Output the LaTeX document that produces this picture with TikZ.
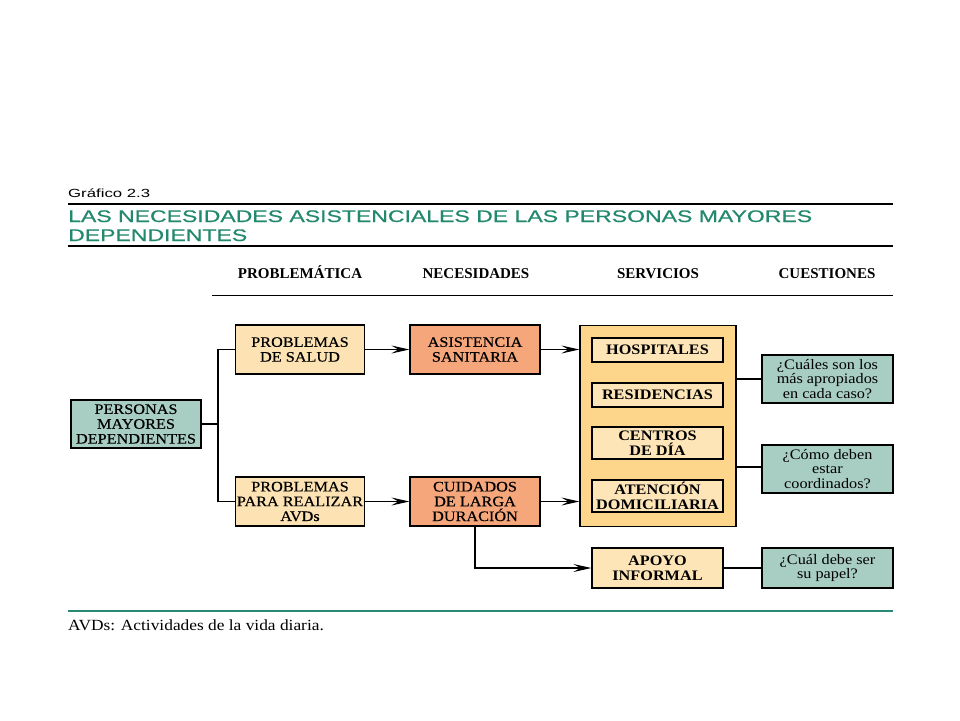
\documentclass[tikz,border=0pt]{standalone}
\usepackage{fontspec}
\setmainfont{Liberation Serif}
\newfontfamily\bxfont[FakeStretch=1.12,FakeBold=0.4]{Liberation Serif}
\newfontfamily\qfont[FakeStretch=1.12]{Liberation Serif}
\newfontfamily\ttlfont[FakeStretch=1.37,FakeBold=0.5]{Liberation Sans}
\newfontfamily\grafont[FakeStretch=1.42]{Liberation Sans}
\newfontfamily\hdrfont{Liberation Serif}
\usetikzlibrary{arrows.meta}
\definecolor{ttlteal}{HTML}{23896E}
\definecolor{boxteal}{HTML}{A8CDC2}
\definecolor{lightyel}{HTML}{FDE3B3}
\definecolor{boxorange}{HTML}{F5A67B}
\definecolor{servyel}{HTML}{FDD68C}
\definecolor{inneryel}{HTML}{FEE5B8}
\definecolor{ruleteal}{HTML}{2A8A73}
\tikzset{
  basebox/.style={draw=black, line width=1.3pt, inner sep=0pt, align=center,
    font=\bxfont\fontsize{14.5}{14.8}\selectfont},
  tealbox/.style={basebox, fill=boxteal, minimum width=130pt, minimum height=48pt},
  yelbox/.style={basebox, fill=lightyel, minimum width=129pt, minimum height=49pt},
  orbox/.style={basebox, fill=boxorange, minimum width=130pt, minimum height=49pt},
  servbox/.style={draw=black, line width=1.3pt, fill=servyel, minimum width=156pt, minimum height=201pt},
  innerbox/.style={basebox, fill=inneryel, minimum width=131pt, font=\qfont\bfseries\fontsize{14.5}{14.8}\selectfont},
  qbox/.style={basebox, fill=boxteal, minimum width=131pt, font=\qfont\fontsize{14.5}{14.8}\selectfont},
  conn/.style={line width=1.1pt},
  arr/.style={line width=1.1pt, -{Stealth[length=18pt,width=8pt,inset=7pt]}},
  hdr/.style={font=\hdrfont\bfseries\fontsize{15}{18}\selectfont, anchor=base},
}
\begin{document}
\begin{tikzpicture}[x=1pt,y=-1pt]
\useasboundingbox[fill=white] (0,0) rectangle (960,720);
% header texts
\node[anchor=base west, inner sep=0, font=\grafont\fontsize{11.8}{13}\selectfont] (gra) at (68,197) {Gráfico 2.3};
\draw[line width=2pt] (68,203.5) -- (893,203.5);
\node[anchor=base west, inner sep=0, text=ttlteal, font=\ttlfont\fontsize{16.8}{20}\selectfont] (t1) at (68,222) {LAS NECESIDADES ASISTENCIALES DE LAS PERSONAS MAYORES};
\node[anchor=base west, inner sep=0, text=ttlteal, font=\ttlfont\fontsize{16.8}{20}\selectfont] (t2) at (68,241) {DEPENDIENTES};
\draw[line width=2pt] (68,246) -- (893,246);
\node[hdr] (h1) at (300,278) {PROBLEMÁTICA};
\node[hdr] (h2) at (476,278) {NECESIDADES};
\node[hdr] (h3) at (658,278) {SERVICIOS};
\node[hdr] (h4) at (827,278) {CUESTIONES};
\draw[line width=1.3pt] (212,295.5) -- (893,295.5);
% boxes
\node[tealbox] (pmd) at (136,424) {PERSONAS\\MAYORES\\DEPENDIENTES};
\node[yelbox] (ps) at (300,349.5) {PROBLEMAS\\DE SALUD};
\node[yelbox] (pa) at (300,501.5) {PROBLEMAS\\PARA REALIZAR\\AVDs};
\node[orbox] (as) at (475,349.5) {ASISTENCIA\\SANITARIA};
\node[orbox] (cu) at (475,501.5) {CUIDADOS\\DE LARGA\\DURACIÓN};
\node[servbox] (serv) at (658,426) {};
\node[innerbox, minimum height=24pt] (hosp) at (657.5,350) {HOSPITALES};
\node[innerbox, minimum height=24pt] (res) at (657.5,395) {RESIDENCIAS};
\node[innerbox, minimum height=32pt] (cen) at (657.5,443) {CENTROS\\DE DÍA};
\node[innerbox, minimum height=32pt] (aten) at (657.5,496) {ATENCIÓN\\DOMICILIARIA};
\node[innerbox, minimum height=40pt] (apo) at (657.5,568) {APOYO\\INFORMAL};
\node[qbox, minimum height=48pt] (q1) at (827.5,379) {¿Cuáles son los\\más apropiados\\en cada caso?};
\node[qbox, minimum height=48pt] (q2) at (827.5,469) {¿Cómo deben\\estar\\coordinados?};
\node[qbox, minimum height=40pt] (q3) at (827.5,568) {¿Cuál debe ser\\su papel?};
% connectors
\coordinate (fork) at (218,424);
\draw[conn] (pmd.east) -- (fork);
\draw[conn] (ps.west) -| (fork) |- (pa.west);
\draw[arr] (ps) -- (as);
\draw[arr] (pa) -- (cu);
\draw[arr] (as.east) -- (as.east -| serv.west);
\draw[arr] (cu.east) -- (cu.east -| serv.west);
\draw[arr] (cu.south) |- (apo.west);
\draw[conn] (serv.east |- q1.west) -- (q1.west);
\draw[conn] (serv.east |- 0,467) -- (q2.west |- 0,467);
\draw[conn] (apo.east) -- (q3.west);
% footer
\draw[line width=2.5pt, ruleteal] (68,611) -- (893,611);
\node[anchor=base west, inner sep=0, font=\qfont\fontsize{15.5}{18}\selectfont] (foot) at (68,630) {AVDs: Actividades de la vida diaria.};
\end{tikzpicture}
\end{document}
